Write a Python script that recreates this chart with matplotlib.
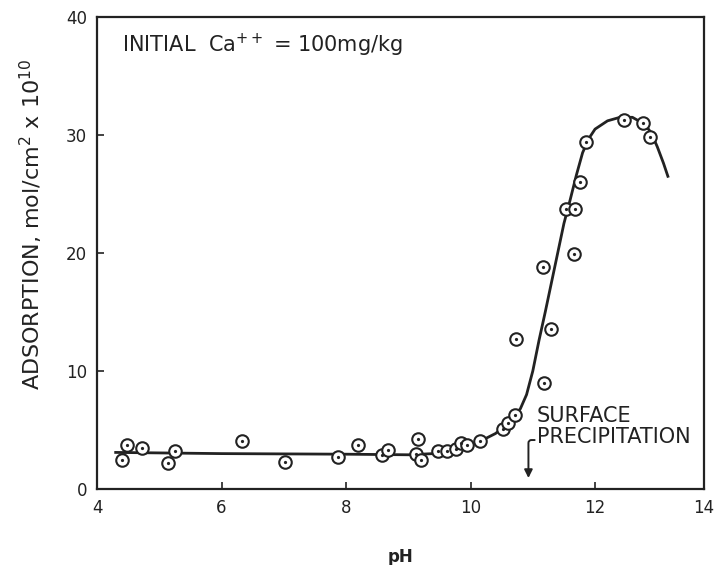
import numpy as np
import matplotlib.pyplot as plt

# measured points
ph_pts = [4.40, 4.48, 4.72, 5.14, 5.26, 6.33, 7.02, 7.87, 8.19, 8.58, 8.68,
          9.12, 9.16, 9.20, 9.47, 9.62, 9.76, 9.84, 9.95, 10.15, 10.52, 10.60,
          10.71, 10.73, 11.18, 11.16, 11.29, 11.66, 11.54, 11.68, 11.76, 11.86,
          12.47, 12.77, 12.89]
ads_pts = [2.5, 3.7, 3.5, 2.2, 3.2, 4.1, 2.3, 2.7, 3.7, 2.9, 3.3,
           3.0, 4.2, 2.5, 3.2, 3.2, 3.4, 3.9, 3.7, 4.1, 5.1, 5.6,
           6.3, 12.7, 9.0, 18.8, 13.6, 19.9, 23.7, 23.7, 26.0, 29.4,
           31.3, 31.0, 29.8]

# hand drawn trend curve
ph_fit = [4.3, 6.0, 8.0, 9.0, 9.4, 9.8, 10.1, 10.4, 10.6, 10.8, 10.9, 11.0,
          11.1, 11.2, 11.3, 11.4, 11.5, 11.6, 11.7, 11.8, 11.9, 12.0, 12.2,
          12.4, 12.6, 12.8, 12.9, 13.0, 13.1, 13.17]
ads_fit = [3.1, 3.0, 2.95, 2.9, 3.0, 3.4, 3.9, 4.7, 5.5, 6.8, 8.0, 10.0,
           12.6, 15.0, 17.5, 20.0, 22.5, 24.5, 26.6, 28.5, 29.7, 30.5, 31.2,
           31.5, 31.5, 30.9, 30.2, 29.0, 27.6, 26.5]

# axis ticks (right frame of the scanned figure sits just short of 14)
x_ticks = [4, 6, 8, 10, 12, 13.75]
x_labels = ['4', '6', '8', '10', '12', '14']
y_ticks = [0, 10, 20, 30, 40]

ink = '#222222'

fig = plt.figure(figsize=(7.18, 5.65), dpi=100)
ax = fig.add_axes([0.1351, 0.1345, 0.8454, 0.8354])

ax.plot(ph_fit, ads_fit, color=ink, linewidth=2.0, zorder=2)
ax.plot(ph_pts, ads_pts, linestyle='none', marker='o', markersize=9,
        markerfacecolor='white', markeredgecolor=ink, markeredgewidth=1.5, zorder=3)
ax.plot(ph_pts, ads_pts, linestyle='none', marker='o', markersize=1.3,
        color=ink, zorder=4)

ax.set_xlim(4, 13.75)
ax.set_ylim(0, 40)
ax.set_xticks(x_ticks)
ax.set_xticklabels(x_labels)
ax.set_yticks(y_ticks)
ax.tick_params(direction='in', length=5, width=1.2, labelsize=12, colors=ink, pad=7)
for s in ax.spines.values():
    s.set_linewidth(1.6)
    s.set_color(ink)

ax.set_xlabel('pH', fontsize=12, fontweight='bold', color=ink)
ax.xaxis.set_label_coords(0.5, -0.125)
ax.set_ylabel(r'ADSORPTION, mol/cm$^2$ x 10$^{10}$', fontsize=16, color=ink)
ax.yaxis.set_label_coords(-0.085, 0.56)

ax.text(4.4, 37.6, r'INITIAL  Ca$^{++}$ = 100mg/kg', fontsize=15, color=ink,
        va='center', ha='left')

ax.text(11.06, 5.33, 'SURFACE\nPRECIPITATION', fontsize=15, color=ink,
        ha='left', va='center', linespacing=1.05)
ax.annotate('', xy=(10.93, 0.93), xytext=(11.03, 4.15),
            arrowprops=dict(arrowstyle='-|>', color=ink, lw=1.4,
                            connectionstyle='angle,angleA=180,angleB=90,rad=3',
                            mutation_scale=12, shrinkA=0, shrinkB=0))

fig.savefig('out.png', dpi=100)
